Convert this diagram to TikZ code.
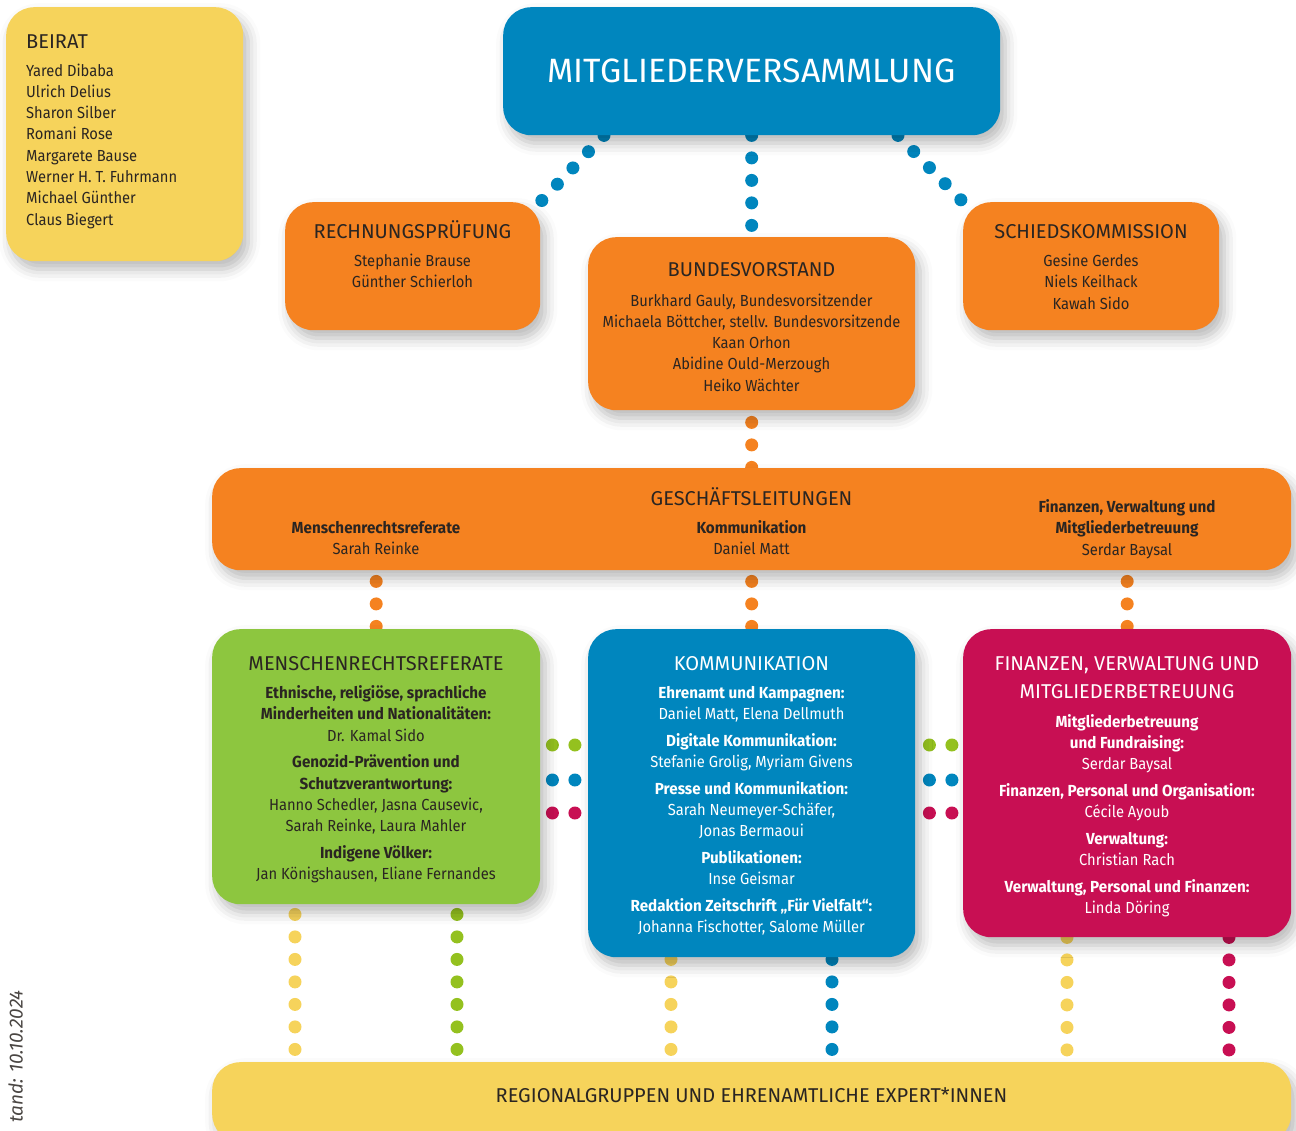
\documentclass[tikz,border=0pt]{standalone}
\usepackage{fontspec}
\setmainfont{Fira Sans}
\newfontfamily\bodyfam{Fira Sans}[FakeStretch=0.92, BoldFeatures={FakeStretch=0.95}]
\usetikzlibrary{calc,shadows.blur}
\definecolor{cyel}{HTML}{F6D35B}
\definecolor{cblue}{HTML}{0086BE}
\definecolor{corange}{HTML}{F58220}
\definecolor{cgreen}{HTML}{8DC63F}
\definecolor{cmag}{HTML}{C80F53}
\definecolor{dgreen}{HTML}{94C11F}
\definecolor{ink}{HTML}{2A2522}
\pgfdeclarelayer{bg}\pgfsetlayers{bg,main}
\newcommand\mlines[1]{\begin{tabular}[t]{@{}c@{}}#1\end{tabular}}
\newcommand\bodyfs{\bodyfam\fontsize{16}{21.3}\selectfont}
\newcommand\titlefs{\fontsize{20}{28}\selectfont}
\begin{document}
\begin{tikzpicture}[x=1pt,y=-1pt,
  box/.style={rounded corners=28pt, inner sep=0pt, anchor=north west,
    blur shadow={shadow xshift=5pt, shadow yshift=-8pt, shadow blur radius=12pt, shadow opacity=28}},
  ttl/.style={font=\titlefs, text=ink, anchor=base, inner sep=0pt},
  bod/.style={font=\bodyfs, text=ink, anchor=base, inner sep=0pt},
  dotline/.style={line width=13pt, line cap=round, dash pattern=on 0pt off 22.5pt}]
\useasboundingbox (0,0) rectangle (1296,1130);
\clip (0,0) rectangle (1296,1130);

% boxes
\node[box, fill=cyel, minimum width=237pt, minimum height=254pt] (beirat) at (6,7) {};
\node[box, fill=cblue, minimum width=497pt, minimum height=128pt] (mv) at (503,7) {};
\node[box, fill=corange, minimum width=255pt, minimum height=128pt] (rp) at (285,202) {};
\node[box, fill=corange, minimum width=327pt, minimum height=173pt] (bv) at (588,237) {};
\node[box, fill=corange, minimum width=256pt, minimum height=128pt] (sk) at (963,202) {};
\node[box, fill=corange, minimum width=1079pt, minimum height=102pt] (gl) at (212,468) {};
\node[box, fill=cgreen, minimum width=328pt, minimum height=275pt] (mr) at (212,629) {};
\node[box, fill=cblue, minimum width=327pt, minimum height=328pt] (kom) at (588,629) {};
\node[box, fill=cmag, minimum width=328pt, minimum height=308pt] (fin) at (963,629) {};
\node[box, fill=cyel, minimum width=1079pt, minimum height=80pt] (reg) at (212,1062) {};

% texts
\node[ttl, anchor=base west] (beirat-t) at (26,48) {BEIRAT};
\node[bod, anchor=base west] (beirat-n) at (26,76) {\begin{tabular}[t]{@{}l@{}}Yared Dibaba\\Ulrich Delius\\Sharon Silber\\Romani Rose\\Margarete Bause\\Werner H. T. Fuhrmann\\Michael Günther\\Claus Biegert\end{tabular}};

\node[font=\fontsize{33.7}{38}\selectfont, text=white, anchor=base, inner sep=0pt] (mv-t) at (751.5,82) {MITGLIEDERVERSAMMLUNG};

\node[ttl] (rp-t) at (412.5,238) {RECHNUNGSPRÜFUNG};
\node[bod] (rp-n) at (412.5,266.5) {\mlines{Stephanie Brause\\Günther Schierloh}};

\node[ttl] (bv-t) at (751.5,276) {BUNDESVORSTAND};
\node[bod] (bv-n) at (751.5,306) {\mlines{Burkhard Gauly, Bundesvorsitzender\\Michaela Böttcher, stellv. Bundesvorsitzende\\Kaan Orhon\\Abidine Ould-Merzough\\Heiko Wächter}};

\node[ttl] (sk-t) at (1091,238) {SCHIEDSKOMMISSION};
\node[bod] (sk-n) at (1091,266.5) {\mlines{Gesine Gerdes\\Niels Keilhack\\Kawah Sido}};

\node[ttl] (gl-t) at (751.5,505) {GESCHÄFTSLEITUNGEN};
\node[bod] (gl-a) at (376,533.5) {\mlines{\textbf{Menschenrechtsreferate}\\Sarah Reinke}};
\node[bod] (gl-b) at (751.5,533.5) {\mlines{\textbf{Kommunikation}\\Daniel Matt}};
\node[bod] (gl-c) at (1127,512.5) {\mlines{\textbf{Finanzen, Verwaltung und}\\\textbf{Mitgliederbetreuung}\\Serdar Baysal}};

\node[ttl] (mr-t) at (376,670) {MENSCHENRECHTSREFERATE};
\node[bod] (mr-n) at (376,698.5) {\mlines{\textbf{Ethnische, religiöse, sprachliche}\\\textbf{Minderheiten und Nationalitäten:}\\Dr. Kamal Sido\\[5.4pt]\textbf{Genozid-Prävention und}\\\textbf{Schutzverantwortung:}\\Hanno Schedler, Jasna Causevic,\\Sarah Reinke, Laura Mahler\\[5.4pt]\textbf{Indigene Völker:}\\Jan Königshausen, Eliane Fernandes}};

\node[ttl, text=white] (kom-t) at (751.5,670) {KOMMUNIKATION};
\node[bod, text=white] (kom-n) at (751.5,698.3) {\mlines{\textbf{Ehrenamt und Kampagnen:}\\Daniel Matt, Elena Dellmuth\\[5.4pt]\textbf{Digitale Kommunikation:}\\Stefanie Grolig, Myriam Givens\\[5.4pt]\textbf{Presse und Kommunikation:}\\Sarah Neumeyer-Schäfer,\\Jonas Bermaoui\\[5.4pt]\textbf{Publikationen:}\\Inse Geismar\\[5.4pt]\textbf{Redaktion Zeitschrift „Für Vielfalt“:}\\Johanna Fischotter, Salome Müller}};

\node[ttl, text=white] (fin-t) at (1127,670) {\mlines{FINANZEN, VERWALTUNG UND\\MITGLIEDERBETREUUNG}};
\node[bod, text=white] (fin-n) at (1127,727.3) {\mlines{\textbf{Mitgliederbetreuung}\\\textbf{und Fundraising:}\\Serdar Baysal\\[5.4pt]\textbf{Finanzen, Personal und Organisation:}\\Cécile Ayoub\\[5.4pt]\textbf{Verwaltung:}\\Christian Rach\\[5.4pt]\textbf{Verwaltung, Personal und Finanzen:}\\Linda Döring}};

\node[ttl] (reg-t) at (751.5,1102) {REGIONALGRUPPEN UND EHRENAMTLICHE EXPERT*INNEN};

\node[font=\fontsize{19}{22}\selectfont\itshape, text=ink!85, rotate=90, anchor=base east, inner sep=0pt] (stand) at (22.5,990) {tand: 10.10.2024};

% connectors
\begin{pgfonlayer}{bg}
\draw[dotline, cblue] (mv.south -| 604,0) -- (rp.north east);
\draw[dotline, cblue] (mv.south) -- (bv.north);
\draw[dotline, cblue] (mv.south -| 898,0) -- (sk.north west);
\draw[dotline, corange, dash phase=10.5pt] (bv.south) -- (gl.north);
\draw[dotline, corange, dash phase=11.5pt] (gl.south -| mr.north) -- (mr.north);
\draw[dotline, corange, dash phase=11.5pt] (gl.south -| kom.north) -- (kom.north);
\draw[dotline, corange, dash phase=11.5pt] (gl.south -| fin.north) -- (fin.north);
\foreach \yy/\cc in {745/dgreen, 780/cblue, 813/cmag}{
  \draw[dotline, \cc, dash phase=10.5pt] (mr.east |- 0,\yy) -- (kom.west |- 0,\yy);
  \draw[dotline, \cc, dash phase=8.5pt] (kom.east |- 0,\yy) -- (fin.west |- 0,\yy);
}
\draw[dotline, cyel, dash phase=12.5pt] (mr.south -| 295,0) -- (reg.north -| 295,0);
\draw[dotline, dgreen, dash phase=12.5pt] (mr.south -| 457,0) -- (reg.north -| 457,0);
\draw[dotline, cyel, dash phase=20.5pt] (kom.south -| 671,0) -- (reg.north -| 671,0);
\draw[dotline, cblue, dash phase=20.5pt] (kom.south -| 832,0) -- (reg.north -| 832,0);
\draw[dotline, cyel] (fin.south -| 1067,0) -- (reg.north -| 1067,0);
\draw[dotline, cmag] (fin.south -| 1229,0) -- (reg.north -| 1229,0);
\end{pgfonlayer}
\end{tikzpicture}
\end{document}
